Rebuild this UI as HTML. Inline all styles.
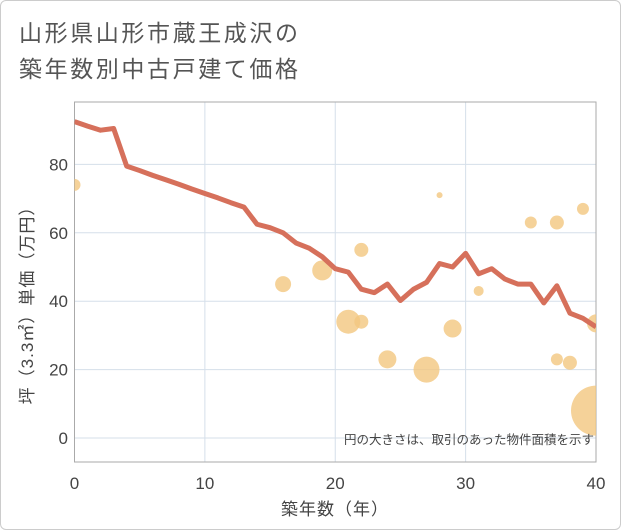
<!DOCTYPE html>
<html><head><meta charset="utf-8"><style>
body{margin:0;background:#fff;font-family:"Liberation Sans","Noto Sans CJK JP",sans-serif}
#wrap{position:relative;width:619px;height:528px;border:1px solid #ccc;border-radius:6px;overflow:hidden}
#title{position:absolute;left:18px;top:14px;font-size:23px;line-height:36px;color:#555;letter-spacing:2.6px}
svg{position:absolute;left:0;top:0}
</style></head><body>
<div id="wrap">
<div id="title">山形県山形市蔵王成沢の<br>築年数別中古戸建て価格</div>
<svg id="chart" width="621" height="530"></svg>
</div>
<script>
const lineYears=[0,1,2,3,4,5,6,7,8,9,10,11,12,13,14,15,16,17,18,19,20,21,22,23,24,25,26,27,28,29,30,31,32,33,34,35,36,37,38,39,40];
const linePrices=[92.5,91.2,90,90.5,79.5,78.2,76.8,75.5,74.2,72.8,71.5,70.2,68.8,67.5,62.5,61.5,60,57,55.5,53,49.5,48.5,43.5,42.5,45,40.2,43.5,45.5,51,50,54,48,49.5,46.5,45,45,39.5,44.5,36.5,35,32.5];
const bubX=[0,16,19,21,22,22,24,27,28,29,31,35,37,37,38,39,40,40];
const bubY=[74,45,49,34,55,34,23,20,71,32,43,63,63,23,22,67,33.5,8];
const bubArea=[36,64,100,144,49,49,81,169,9,81,25,36,49,36,49,36,81,625];
const xTicks=[0,10,20,30,40];
const yTicks=[0,20,40,60,80];
const L=73.5,R=595,T=101,B=461;
const X=v=>L+v*(R-L)/40;
const Y=v=>437-v*3.42;
const svg=document.getElementById('chart');
const NS='http://www.w3.org/2000/svg';
function mk(t,a){const e=document.createElementNS(NS,t);for(const k in a)e.setAttribute(k,a[k]);svg.appendChild(e);return e;}
const clip=mk('clipPath',{id:'c'});const cr=document.createElementNS(NS,'rect');cr.setAttribute('x',L);cr.setAttribute('y',T);cr.setAttribute('width',R-L);cr.setAttribute('height',B-T);clip.appendChild(cr);
xTicks.forEach(v=>{const g=mk('line',{x1:X(v),x2:X(v),y1:T,y2:B,stroke:'#d5dfea','stroke-width':1});

const t=mk('text',{x:X(v),y:488,'text-anchor':'middle','font-size':17,fill:'#444'});t.textContent=v;
});
yTicks.forEach(v=>{const g=mk('line',{x1:L,x2:R,y1:Y(v),y2:Y(v),stroke:'#d5dfea','stroke-width':1});

const t=mk('text',{x:67,y:Y(v)+6,'text-anchor':'end','font-size':17,fill:'#444'});t.textContent=v;
});
const fr=mk('rect',{x:L,y:T,width:R-L,height:B-T,fill:'none',stroke:'#aaa','stroke-width':1});

bubX.forEach((v,i)=>{const c=mk('circle',{cx:X(v),cy:Y(bubY[i]),r:Math.sqrt(bubArea[i]),fill:'#f3c77f','fill-opacity':0.8,'clip-path':'url(#c)'});
});
const p=mk('polyline',{points:lineYears.map((v,i)=>X(v)+','+Y(linePrices[i])).join(' '),fill:'none',stroke:'#d6705b','stroke-width':5,'stroke-linejoin':'round','clip-path':'url(#c)'});

const n=mk('text',{x:593,y:443,'text-anchor':'end','font-size':12.5,fill:'#444'});n.textContent='円の大きさは、取引のあった物件面積を示す';

const xt=mk('text',{x:334,y:514,'text-anchor':'middle','font-size':17,fill:'#444','letter-spacing':1});xt.textContent='築年数（年）';

const yt=mk('text',{x:0,y:0,'text-anchor':'middle','font-size':17,fill:'#444','letter-spacing':1,transform:'translate(32,300) rotate(-90)'});yt.textContent='坪（3.3㎡）単価（万円）';

</script>
</body></html>
